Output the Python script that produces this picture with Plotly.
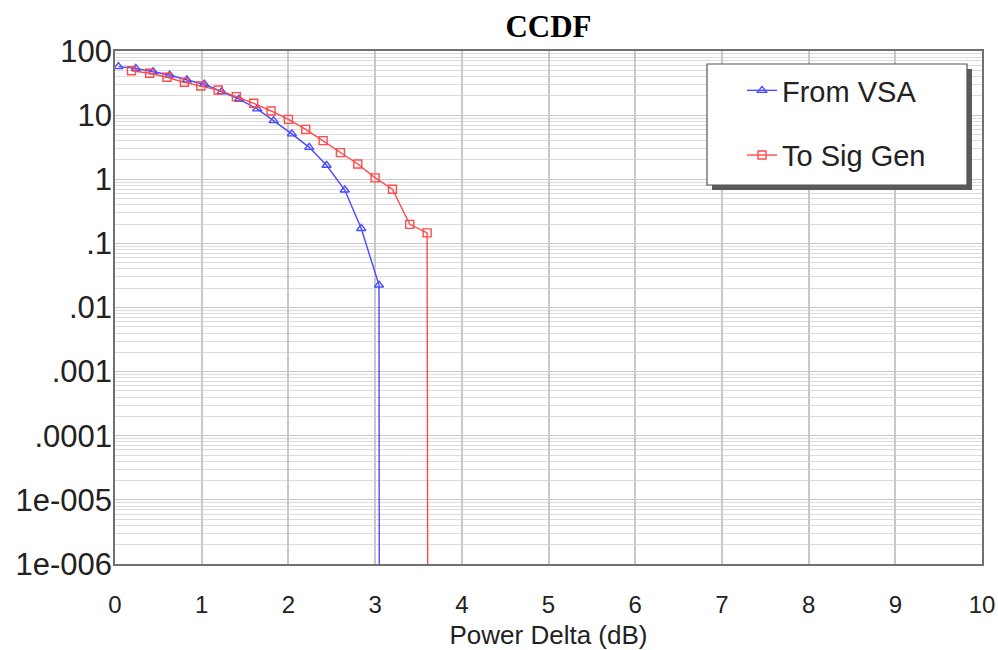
import plotly.graph_objects as go

# Data (Power Delta in dB, CCDF in %)
vsa_x = [0.04, 0.24, 0.44, 0.63, 0.83, 1.03, 1.23, 1.43, 1.64, 1.83, 2.04, 2.24, 2.44, 2.65, 2.84, 3.045, 3.05]
vsa_y = [57, 53.7, 47.5, 42.2, 35.3, 30.3, 23.2, 17.7, 12.5, 8.2, 5.1, 3.14, 1.65, 0.68, 0.171, 0.0224, 1e-9]

gen_x = [0.19, 0.40, 0.60, 0.80, 0.99, 1.19, 1.40, 1.60, 1.80, 2.00, 2.20, 2.40, 2.60, 2.80, 3.00, 3.20, 3.40, 3.60, 3.61]
gen_y = [49.3, 44.9, 38.9, 32.5, 28.4, 24.6, 19.4, 15.3, 11.6, 8.6, 6.0, 4.0, 2.6, 1.73, 1.05, 0.70, 0.198, 0.146, 1e-9]

y_tickvals = [100, 10, 1, 0.1, 0.01, 0.001, 0.0001, 1e-5, 1e-6]
y_ticktext = ["100", "10", "1", ".1", ".01", ".001", ".0001", "1e-005", "1e-006"]
y_minor = [m * 10 ** e for e in range(-6, 2) for m in range(2, 10)]

W, H = 998, 650
# plot area in page pixels: x 115..982, y 51..564
PL, PR, PT, PB = 115, 982, 51, 564
L, R, T, B = PL, W - PR, PT, H - PB
pw, ph = W - L - R, H - T - B

def px(x):
    return (x - PL) / pw

def py(y):
    return (PB - y) / ph

FONT = "Arial, Liberation Sans, sans-serif"

fig = go.Figure()
fig.add_trace(go.Scatter(
    x=vsa_x, y=vsa_y, name="From VSA", mode="lines+markers",
    line=dict(color="#4a4aff", width=1.4),
    marker=dict(symbol="triangle-up-open", size=8, color="#4a4aff", line=dict(width=1.4)),
    legendgroup="a",
))
fig.add_trace(go.Scatter(
    x=gen_x, y=gen_y, name="To Sig Gen", mode="lines+markers",
    line=dict(color="#ff4a4a", width=1.4),
    marker=dict(symbol="square-open", size=8, color="#ff4a4a", line=dict(width=1.4)),
    legendgroup="b",
))

# legend box with shadow
fig.add_shape(type="rect", xref="paper", yref="paper",
              x0=px(712), x1=px(972), y0=py(190), y1=py(69),
              fillcolor="#5a5a5a", line=dict(width=0), layer="above")
fig.add_shape(type="rect", xref="paper", yref="paper",
              x0=px(707), x1=px(967), y0=py(185), y1=py(64),
              fillcolor="white", line=dict(color="#555555", width=1.2), layer="above")

fig.update_layout(
    template="none",
    width=W, height=H,
    margin=dict(l=L, r=R, t=T, b=B, autoexpand=False),
    paper_bgcolor="white", plot_bgcolor="white",
    title=dict(text="<b>CCDF</b>", x=px(548.5), xanchor="center", xref="paper",
               y=1 - 26 / H, yanchor="middle", yref="container",
               font=dict(family="Times New Roman, Liberation Serif, serif", size=31, color="black")),
    font=dict(family=FONT, color="#222222"),
    showlegend=True,
    legend=dict(x=px(742), y=py(65), xanchor="left", yanchor="top",
                bgcolor="rgba(0,0,0,0)", borderwidth=0,
                font=dict(family=FONT, size=29, color="#222222"),
                traceorder="grouped", tracegroupgap=24, itemwidth=30),
    xaxis=dict(range=[0, 10], dtick=1, tick0=0, showgrid=True, gridcolor="#c8c8c8", gridwidth=1.5,
               zeroline=False, showline=True, linecolor="#707070", linewidth=1.5, mirror=True,
               ticks="", ticklabelstandoff=18, automargin=False, ticklabeloverflow="allow",
               tickfont=dict(family=FONT, size=24, color="#222222"),
               title=dict(text="Power Delta (dB)", font=dict(family=FONT, size=26, color="#222222"), standoff=9)),
    yaxis=dict(type="log", range=[-6, 2], tickmode="array", tickvals=y_tickvals, ticktext=y_ticktext,
               showgrid=True, gridcolor="#c8c8c8", gridwidth=1.2,
               zeroline=False, showline=True, linecolor="#707070", linewidth=1.5, mirror=True,
               ticks="", ticklabelstandoff=-5, automargin=False, ticklabeloverflow="allow",
               tickfont=dict(family=FONT, size=31, color="#222222"),
               minor=dict(tickmode="array", tickvals=y_minor, showgrid=True, gridcolor="#dcdcdc", gridwidth=1)),
)

fig.write_html(
    "out.html",
    config={"displayModeBar": False},
    post_script="document.body.style.margin='0';document.body.style.overflow='hidden';",
)
